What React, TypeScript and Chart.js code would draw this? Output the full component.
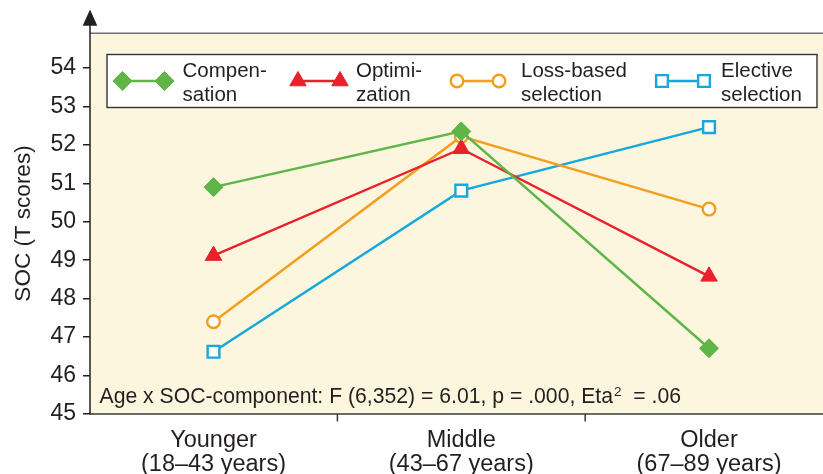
import React, { useEffect, useRef } from "react";
import { Chart, registerables } from "chart.js";
import { drawPoint } from "chart.js/helpers";

Chart.register(...registerables);

// ---------- data ----------
const categories = ["Younger", "Middle", "Older"];
const ageRanges = ["(18–43 years)", "(43–67 years)", "(67–89 years)"];
const categoryPositions = [0, 1, 2];
const compensation = [50.9, 52.35, 46.71];
const optimization = [49.12, 51.9, 48.58];
const lossBased = [47.4, 52.22, 50.33];
const elective = [46.62, 50.81, 52.46];
const seriesNames = ["Compensation", "Optimization", "Loss-based selection", "Elective selection"];
const legendLines = [
  ["Compen-", "sation"],
  ["Optimi-", "zation"],
  ["Loss-based", "selection"],
  ["Elective", "selection"],
];
const yTickValues = [45, 46, 47, 48, 49, 50, 51, 52, 53, 54];
const yAxisTitle = "SOC (T scores)";
const statText = "Age x SOC-component: F (6,352) = 6.01, p = .000, Eta";
const statSup = "2";
const statTail = "  = .06";

// ---------- styles ----------
const FONT = '"Liberation Sans", Arial, Helvetica, sans-serif';
const TEXT = "#231f20";
const BG = "#fcf6df";
const GREEN = "#5db646";
const RED = "#e8212b";
const ORANGE = "#f59e1e";
const BLUE = "#13a9de";

const seriesStyles = [
  { color: GREEN, pointStyle: "rectRot", radius: 9.5, fill: GREEN, borderWidth: 1 },
  { color: RED, pointStyle: "triangle", radius: 9.5, fill: RED, borderWidth: 1 },
  { color: ORANGE, pointStyle: "circle", radius: 6.3, fill: "#ffffff", borderWidth: 2.4 },
  { color: BLUE, pointStyle: "rect", radius: 8.3, fill: "#ffffff", borderWidth: 2.4 },
];
const seriesValues = [compensation, optimization, lossBased, elective];

const legendMarkerX = [122.5, 298, 457, 662];
const legendTextX = [182.5, 356, 521, 721];

const decorPlugin = {
  id: "decor",
  beforeDraw(chart: any) {
    const { ctx, chartArea: a } = chart;
    ctx.save();
    ctx.fillStyle = BG;
    ctx.fillRect(a.left, a.top, a.right - a.left, a.bottom - a.top);
    ctx.restore();
  },
  afterDraw(chart: any) {
    const { ctx, chartArea: a, scales } = chart;
    const xs = scales.x;
    ctx.save();
    // top border
    ctx.strokeStyle = "#6f6f6f";
    ctx.lineWidth = 1.6;
    ctx.beginPath();
    ctx.moveTo(a.left, a.top + 0.3);
    ctx.lineTo(a.right, a.top + 0.3);
    ctx.stroke();
    // x axis line
    ctx.strokeStyle = "#3a3a3a";
    ctx.lineWidth = 1.5;
    ctx.beginPath();
    ctx.moveTo(a.left, a.bottom);
    ctx.lineTo(a.right, a.bottom);
    ctx.stroke();
    // x tick marks between categories
    for (let i = 0; i < categoryPositions.length - 1; i++) {
      const px = xs.getPixelForValue((categoryPositions[i] + categoryPositions[i + 1]) / 2);
      ctx.beginPath();
      ctx.moveTo(px, a.bottom);
      ctx.lineTo(px, a.bottom + 7.5);
      ctx.stroke();
    }
    // y axis line + arrow
    ctx.strokeStyle = "#231f20";
    ctx.beginPath();
    ctx.moveTo(a.left, a.bottom + 0.75);
    ctx.lineTo(a.left, 25);
    ctx.stroke();
    ctx.fillStyle = "#231f20";
    ctx.beginPath();
    ctx.moveTo(a.left, 9.5);
    ctx.lineTo(a.left - 7.3, 25.8);
    ctx.lineTo(a.left + 7.3, 25.8);
    ctx.closePath();
    ctx.fill();

    // legend box
    ctx.fillStyle = "#ffffff";
    ctx.fillRect(107, 54.5, 710, 53);
    ctx.strokeStyle = "#333333";
    ctx.lineWidth = 1.4;
    ctx.strokeRect(107, 54.5, 710, 53);
    const ly = 81;
    for (let i = 0; i < legendLines.length; i++) {
      const st = seriesStyles[i];
      const m1 = legendMarkerX[i];
      const m2 = m1 + 42;
      ctx.strokeStyle = st.color;
      ctx.lineWidth = 2.4;
      ctx.beginPath();
      ctx.moveTo(m1, ly);
      ctx.lineTo(m2, ly);
      ctx.stroke();
      for (const mx of [m1, m2]) {
        ctx.fillStyle = st.fill;
        ctx.strokeStyle = st.color;
        ctx.lineWidth = st.borderWidth;
        drawPoint(ctx, { pointStyle: st.pointStyle, radius: st.radius, borderWidth: st.borderWidth, rotation: 0 }, mx, ly);
      }
      ctx.fillStyle = TEXT;
      ctx.font = `20.5px ${FONT}`;
      ctx.textAlign = "left";
      ctx.textBaseline = "alphabetic";
      ctx.fillText(legendLines[i][0], legendTextX[i], 76.7);
      ctx.fillText(legendLines[i][1], legendTextX[i], 100.5);
    }

    // statistic annotation
    ctx.fillStyle = TEXT;
    ctx.textAlign = "left";
    ctx.textBaseline = "alphabetic";
    ctx.font = `21.2px ${FONT}`;
    const sx = 99.5;
    const sy = 403.3;
    ctx.fillText(statText, sx, sy);
    const w = ctx.measureText(statText).width;
    ctx.font = `13.5px ${FONT}`;
    ctx.fillText(statSup, sx + w + 1, sy - 7);
    const ws = ctx.measureText(statSup).width;
    ctx.font = `21.2px ${FONT}`;
    ctx.fillText(statTail, sx + w + 1 + ws, sy);
    ctx.restore();
  },
};

export default function App() {
  const ref = useRef<HTMLCanvasElement>(null);
  useEffect(() => {
    document.body.style.margin = "0";
    const canvas = ref.current;
    if (!canvas) return;
    const datasets = seriesNames.map((name, i) => {
      const st = seriesStyles[i];
      return {
        label: name,
        data: categoryPositions.map((x, j) => ({ x, y: seriesValues[i][j] })),
        borderColor: st.color,
        borderWidth: 2.4,
        backgroundColor: st.fill,
        pointStyle: st.pointStyle,
        pointRadius: st.radius,
        pointBackgroundColor: st.fill,
        pointBorderColor: st.color,
        pointBorderWidth: st.borderWidth,
        fill: false,
        tension: 0,
      };
    });
    const chart = new Chart(canvas, {
      type: "line",
      data: { datasets },
      options: {
        animation: false,
        responsive: false,
        devicePixelRatio: 1,
        events: [],
        layout: { autoPadding: false, padding: { top: 33, right: 0, left: 0, bottom: 0 } },
        plugins: {
          legend: { display: false },
          tooltip: { enabled: false },
          title: { display: false },
        },
        scales: {
          x: {
            type: "linear",
            min: -0.4985,
            max: 2.46,
            grid: { display: false, drawTicks: false },
            border: { display: false },
            afterBuildTicks: (s: any) => {
              s.ticks = categoryPositions.map((v) => ({ value: v }));
            },
            afterFit: (s: any) => {
              s.height = 60;
              s.paddingLeft = 0;
              s.paddingRight = 0;
            },
            ticks: {
              autoSkip: false,
              maxRotation: 0,
              minRotation: 0,
              padding: 14,
              color: TEXT,
              font: { family: FONT, size: 23.5, lineHeight: 1.04 },
              callback: (v: any) => [categories[v], ageRanges[v]],
            },
          },
          y: {
            type: "linear",
            min: 45,
            max: 54.91,
            afterBuildTicks: (s: any) => {
              s.ticks = yTickValues.map((v) => ({ value: v }));
            },
            afterFit: (s: any) => {
              s.width = 90;
              s.paddingTop = 0;
              s.paddingBottom = 0;
            },
            grid: { drawOnChartArea: false, drawTicks: true, tickLength: 7, color: "#231f20", lineWidth: 1.5 },
            border: { display: false },
            ticks: {
              padding: 7,
              color: TEXT,
              font: { family: FONT, size: 23 },
              callback: (v: any) => String(v),
            },
            title: {
              display: true,
              text: yAxisTitle,
              color: TEXT,
              font: { family: FONT, size: 22.5 },
              padding: { top: 10, bottom: 0 },
            },
          },
        },
      },
      plugins: [decorPlugin],
    } as any);
    return () => chart.destroy();
  }, []);
  return (
    <div style={{ width: 823, height: 474 }}>
      <canvas ref={ref} width={823} height={474} style={{ display: "block" }} />
    </div>
  );
}
